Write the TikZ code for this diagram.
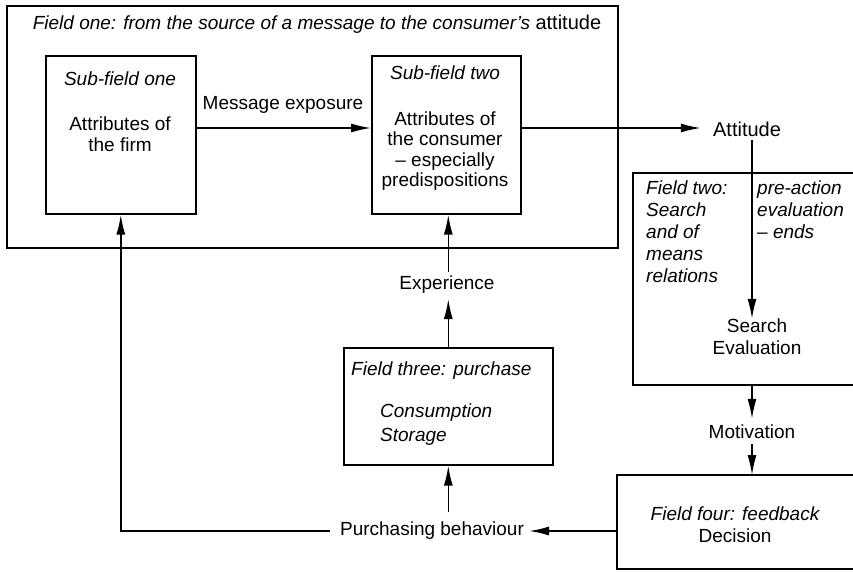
\documentclass[tikz,border=0pt]{standalone}
\usepackage{fontspec}
\setmainfont{Liberation Sans}
\usetikzlibrary{arrows.meta}
\newcommand\basefont{\fontsize{19}{20.5}\selectfont}
\begin{document}
\begin{tikzpicture}[x=1pt,y=-1pt,
  every node/.style={font=\basefont, inner sep=0pt},
  frame/.style={draw, line width=1.6pt, anchor=north west, inner sep=0pt},
  flow/.style={line width=1.6pt, -{Latex[length=20pt,width=9pt]}},
  wire/.style={line width=1.6pt},
  body/.style={align=center},
  note/.style={align=left, anchor=north west, font=\fontsize{19}{22}\selectfont\itshape},
]
\useasboundingbox (0,0) rectangle (853,571);

% Field one with its two sub-fields
\node[frame, minimum width=611pt, minimum height=242pt] (f1) at (6,5) {};
\node[font=\basefont\itshape] (f1t) at (317,24) {Field one: from the source of a message to the consumer’s {\upshape\fontsize{20}{22}\selectfont attitude}};

\node[frame, minimum width=150pt, minimum height=158pt] (s1) at (45,55) {};
\node[font=\basefont\itshape] (s1t) at (120,79) {Sub-field one};
\node[body] (s1b) at (120,134) {Attributes of\\the firm};

\node[frame, minimum width=149pt, minimum height=158pt] (s2) at (371,55) {};
\node[font=\basefont\itshape] (s2t) at (445,73) {Sub-field two};
\node[body] (s2b) at (445,151) {Attributes of\\the consumer\\– especially\\predispositions};

\coordinate (row) at (0,128);
\coordinate (col) at (752,0);
\node (me) at (283,105) {Message exposure};
\node[font=\fontsize{20}{22}\selectfont] (att) at (747,129) {Attitude};

\draw[flow] (s1.east |- row) -- (s2.west |- row);
\draw[flow, shorten >=12pt] (s2.east |- row) -- (att.west |- row);

% Field two (open on the right)
\coordinate (f2nw) at (633,173);
\coordinate (f2sw) at (633,385);
\draw[wire] (856,173) -- (f2nw) -- (f2sw) -- (856,385);
\node[note] (f2a) at (646,181) {Field two:\\Search\\and of\\means\\relations};
\node[note] (f2b) at (757,181) {pre-action\\evaluation\\– ends};
\node[body, font=\fontsize{19}{22}\selectfont] (se) at (757,337) {Search\\Evaluation};
\draw[flow, shorten <=3pt] (att.south -| col) -- (se.north -| col);

% Motivation and field four (open on the right)
\node (mot) at (752,432) {Motivation};
\coordinate (f4nw) at (617,475);
\coordinate (f4sw) at (617,569);
\draw[wire] (856,475) -- (f4nw) -- (f4sw) -- (856,569);
\node[font=\basefont\itshape] (ff) at (735,514) {Field four: feedback};
\node (dec) at (735,536) {Decision};
\draw[flow, shorten >=6pt] (f2sw -| col) -- (mot.north -| col);
\draw[flow, shorten <=5pt] (mot.south -| col) -- (f4nw -| col);

% Field three and the feedback loop
\node[frame, minimum width=209pt, minimum height=117pt] (f3) at (343,347) {};
\node[font=\basefont\itshape, anchor=west] (f3t) at (351,371) {Field three: purchase};
\node[note, font=\fontsize{19}{24}\selectfont\itshape] (f3b) at (380,404) {Consumption\\Storage};

\node (pb) at (432,531) {Purchasing behaviour};
\node (exp) at (447,285) {Experience};

\draw[flow, shorten >=5pt] (f4nw |- pb) -- (pb.east);
\draw[flow, shorten <=10pt] (pb.west) -| (s1.south);
\draw[flow, shorten <=10pt] (pb.north -| f3.south) -- (f3.south);
\draw[flow, shorten >=5pt] (f3.north) -- (exp.south -| f3.north);
\draw[flow, shorten <=4pt] (exp.north -| f3.north) -- (s2.south -| f3.north);
\end{tikzpicture}
\end{document}
